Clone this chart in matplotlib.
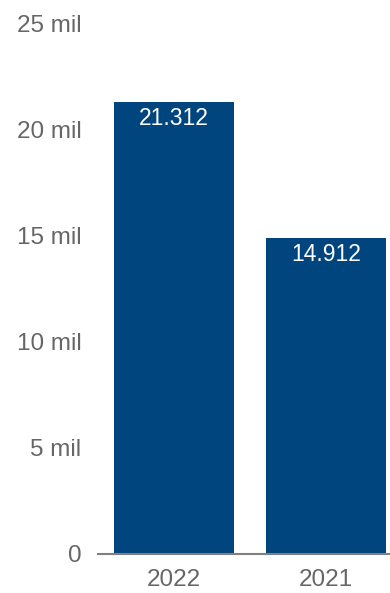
import matplotlib.pyplot as plt
from matplotlib.ticker import FuncFormatter

plt.rcParams['font.family'] = ['Liberation Sans', 'DejaVu Sans']

years = ['2022', '2021']
values = [21312, 14912]
value_labels = ['21.312', '14.912']
y_ticks = [0, 5000, 10000, 15000, 20000, 25000]

bar_color = '#00457e'
text_color = '#666666'

fig = plt.figure(figsize=(3.9, 5.93), dpi=100)
ax = fig.add_axes([98 / 390, 39 / 593, 292 / 390, 530 / 593])

x = range(len(years))
bars = ax.bar(x, values, width=120 / 152, color=bar_color)

# value labels sit just inside the top of each bar
for rect, lab in zip(bars, value_labels):
    ax.text(rect.get_x() + rect.get_width() / 2, rect.get_height() - 250, lab,
            ha='center', va='top', color='white', fontsize=16.5)

ax.set_xlim(-0.5, 1.5 - 12 / 152)
ax.set_ylim(0, 25000)
ax.set_yticks(y_ticks)
ax.yaxis.set_major_formatter(FuncFormatter(lambda v, p: '0' if v == 0 else '%d mil' % (v / 1000)))
ax.set_xticks(list(x))
ax.set_xticklabels(years)

for side in ['top', 'right', 'left']:
    ax.spines[side].set_visible(False)
ax.spines['bottom'].set_color('#808080')
ax.spines['bottom'].set_linewidth(1.5)

ax.tick_params(axis='both', length=0, labelsize=17.5, labelcolor=text_color)
ax.tick_params(axis='y', pad=12)
ax.tick_params(axis='x', pad=11)

fig.savefig('out.png', dpi=100)
